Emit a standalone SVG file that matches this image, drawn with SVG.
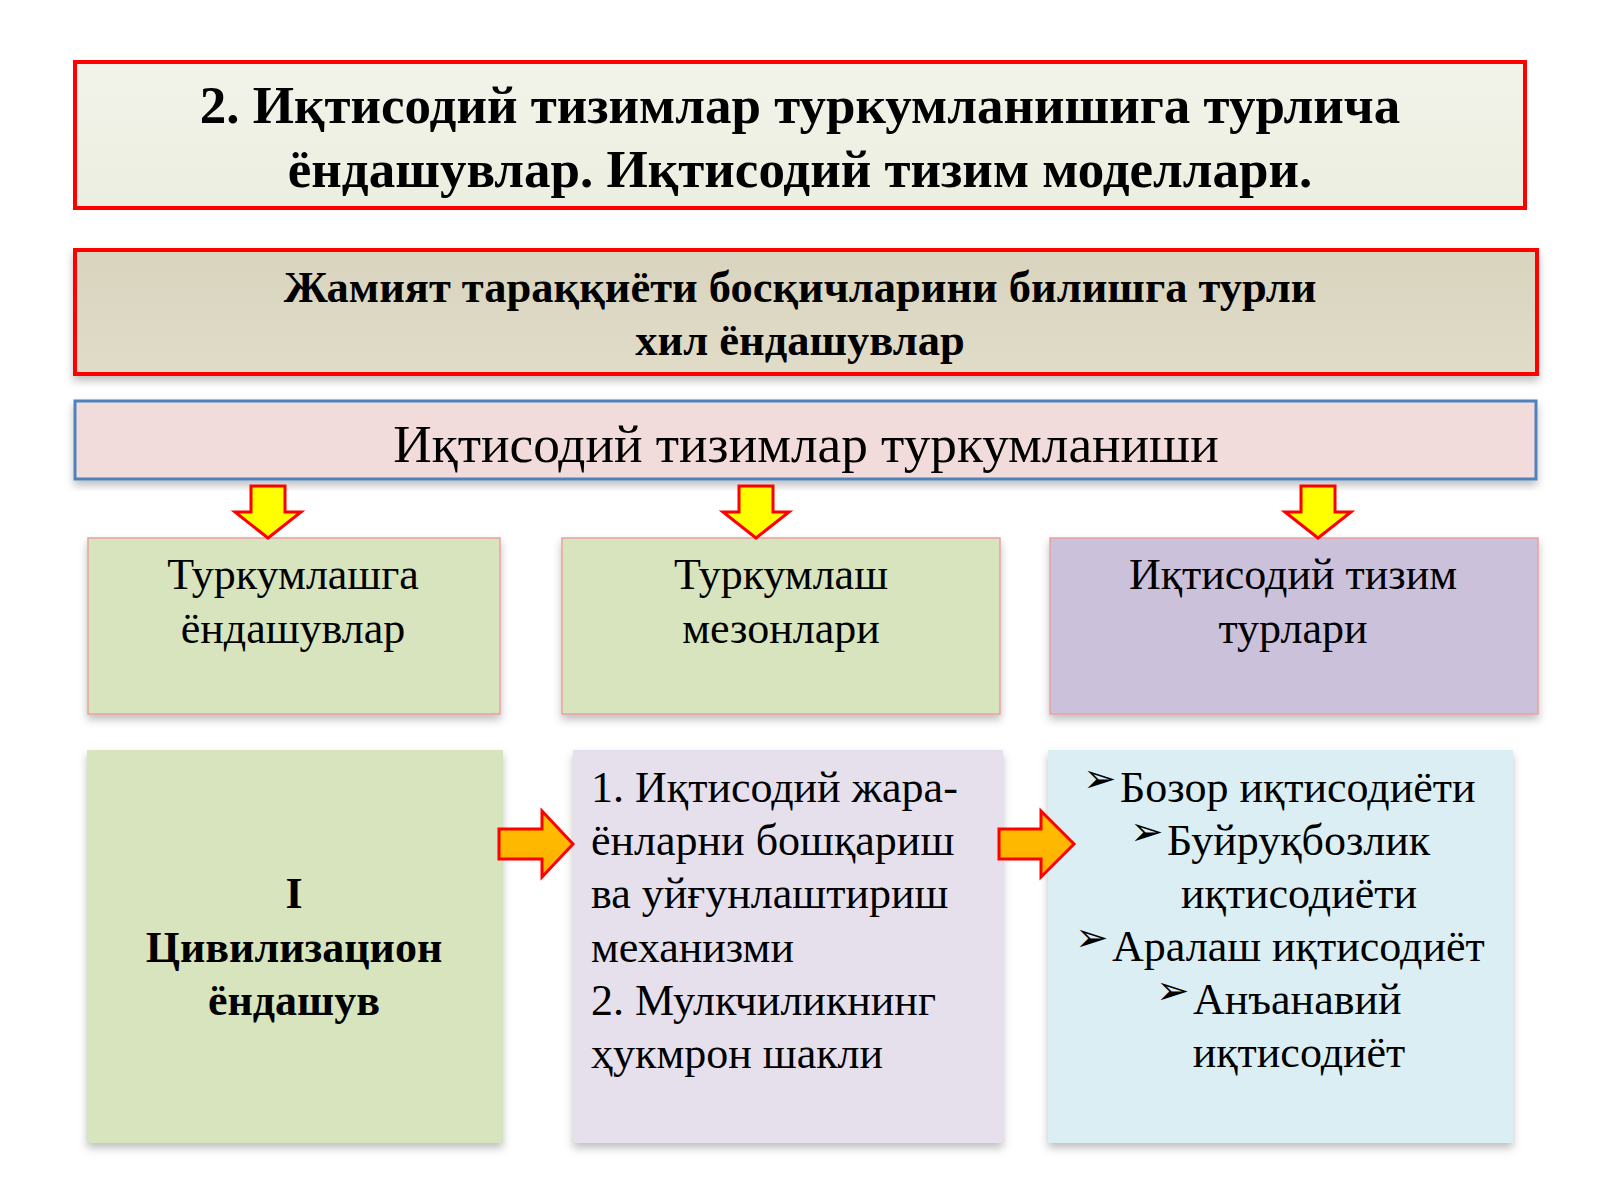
<svg xmlns="http://www.w3.org/2000/svg" width="1600" height="1200" viewBox="0 0 1600 1200">
<style>
  .t { font-family: "Liberation Serif", "Times New Roman", serif; fill: #000; }
  .b { font-weight: bold; }
  .c { text-anchor: middle; }
  .bul { font-family: "DejaVu Sans", sans-serif; fill: #000; font-size: 40px; }
  .darr { fill: #ffff00; stroke: #ff0000; stroke-width: 3; stroke-linejoin: miter; }
  .rarr { fill: url(#gOr); stroke: #ff0000; stroke-width: 3; stroke-linejoin: miter; }
</style>
<defs>
  <linearGradient id="gTitle" x1="0" y1="0" x2="0" y2="1">
    <stop offset="0" stop-color="#f2f4ea"/><stop offset="1" stop-color="#eceee0"/>
  </linearGradient>
  <linearGradient id="gTan" x1="0" y1="0" x2="0" y2="1">
    <stop offset="0" stop-color="#d9d4be"/><stop offset="1" stop-color="#e1dcc8"/>
  </linearGradient>
  <linearGradient id="gOr" x1="0" y1="0" x2="0" y2="1">
    <stop offset="0" stop-color="#ffc000"/><stop offset="1" stop-color="#ffb000"/>
  </linearGradient>
  <filter id="sh" x="-5%" y="-5%" width="110%" height="120%">
    <feDropShadow dx="0" dy="5" stdDeviation="4" flood-color="#000" flood-opacity="0.25"/>
  </filter>
</defs>
<rect width="1600" height="1200" fill="#ffffff"/>

<g id="title">
  <rect x="75" y="62" width="1450" height="146" fill="url(#gTitle)" stroke="#ff0000" stroke-width="4"/>
  <text class="t b c" x="800" y="123" font-size="53">2. Иқтисодий тизимлар туркумланишига турлича</text>
  <text class="t b c" x="800" y="187" font-size="53">ёндашувлар. Иқтисодий тизим моделлари.</text>
</g>

<g id="approaches">
  <rect x="75" y="250" width="1462" height="124" fill="url(#gTan)" stroke="#ff0000" stroke-width="4" filter="url(#sh)"/>
  <text class="t b c" x="800" y="302" font-size="44.5">Жамият тараққиёти босқичларини билишга турли</text>
  <text class="t b c" x="800" y="355" font-size="44.5">хил ёндашувлар</text>
</g>

<g id="classification">
  <rect x="75" y="401" width="1461" height="78" fill="#f2dcdb" stroke="#4f81bd" stroke-width="3" filter="url(#sh)"/>
  <text class="t c" x="806" y="462" font-size="53.3">Иқтисодий тизимлар туркумланиши</text>
</g>

<g id="box-approaches">
  <rect x="88" y="538" width="412" height="176" fill="#d7e4bd" stroke="#e9a0a0" stroke-width="1.5" filter="url(#sh)"/>
  <text class="t c" x="293" y="589" font-size="44">Туркумлашга</text>
  <text class="t c" x="293" y="643" font-size="44">ёндашувлар</text>
</g>

<g id="box-criteria">
  <rect x="562" y="538" width="438" height="176" fill="#d7e4bd" stroke="#e9a0a0" stroke-width="1.5" filter="url(#sh)"/>
  <text class="t c" x="781" y="589" font-size="44">Туркумлаш</text>
  <text class="t c" x="781" y="643" font-size="44">мезонлари</text>
</g>

<g id="box-types">
  <rect x="1050" y="538" width="488" height="176" fill="#ccc1da" stroke="#e9a0a0" stroke-width="1.5" filter="url(#sh)"/>
  <text class="t c" x="1293" y="589" font-size="44">Иқтисодий тизим</text>
  <text class="t c" x="1293" y="643" font-size="44">турлари</text>
</g>

<g id="box-civilization">
  <rect x="87" y="750" width="416" height="393" fill="#d7e4bd" filter="url(#sh)"/>
  <text class="t b c" x="294" y="908" font-size="44">I</text>
  <text class="t b c" x="294" y="962" font-size="44">Цивилизацион</text>
  <text class="t b c" x="294" y="1015" font-size="44">ёндашув</text>
</g>

<g id="box-mechanism">
  <rect x="573" y="750" width="430" height="393" fill="#e5e0ec" filter="url(#sh)"/>
  <text class="t" x="591" y="802" font-size="44">1. Иқтисодий жара-</text>
  <text class="t" x="591" y="855" font-size="44">ёнларни бошқариш</text>
  <text class="t" x="591" y="908" font-size="44">ва уйғунлаштириш</text>
  <text class="t" x="591" y="962" font-size="44">механизми</text>
  <text class="t" x="591" y="1015" font-size="44">2. Мулкчиликнинг</text>
  <text class="t" x="591" y="1068" font-size="44">ҳукмрон шакли</text>
</g>

<g id="box-systems">
  <rect x="1048" y="750" width="465" height="393" fill="#daeef3" filter="url(#sh)"/>
  <text class="bul" x="1083" y="792">➢</text>
  <text class="t" x="1120" y="802" font-size="44">Бозор иқтисодиёти</text>
  <text class="bul" x="1130" y="845">➢</text>
  <text class="t" x="1167" y="855" font-size="44">Буйруқбозлик</text>
  <text class="t c" x="1299" y="908" font-size="44">иқтисодиёти</text>
  <text class="bul" x="1075" y="951">➢</text>
  <text class="t" x="1112" y="961" font-size="44">Аралаш иқтисодиёт</text>
  <text class="bul" x="1156" y="1004">➢</text>
  <text class="t" x="1193" y="1014" font-size="44">Анъанавий</text>
  <text class="t c" x="1299" y="1067" font-size="44">иқтисодиёт</text>
</g>

<g id="connectors">
  <polygon class="darr" points="251,486 285,486 285,512 301,512 268,538 235,512 251,512"/>
  <polygon class="darr" points="739,486 773,486 773,512 789,512 756,538 723,512 739,512"/>
  <polygon class="darr" points="1301,486 1335,486 1335,512 1351,512 1318,538 1285,512 1301,512"/>
  <polygon class="rarr" points="499,829 542,829 542,811 573,844 542,877 542,859 499,859"/>
  <polygon class="rarr" points="999,829 1041,829 1041,811 1074,844 1041,877 1041,859 999,859"/>
</g>
</svg>
